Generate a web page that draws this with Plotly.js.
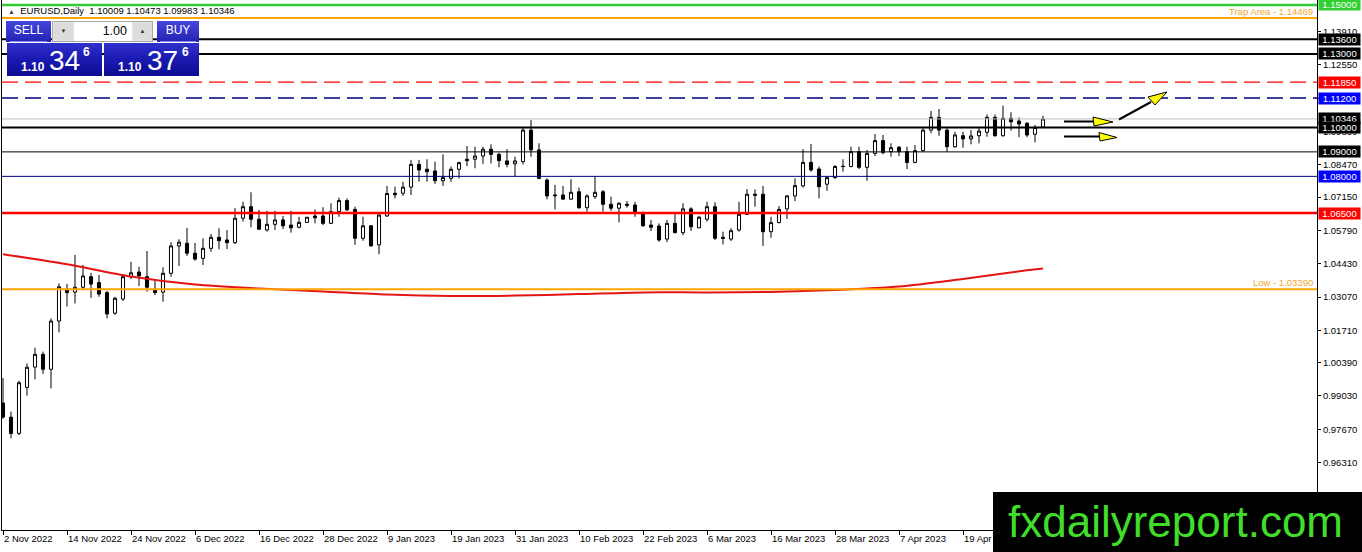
<!DOCTYPE html>
<html><head><meta charset="utf-8">
<script src="https://cdn.plot.ly/plotly-3.0.1.min.js"></script>
<style>
body{margin:0;background:#fff;}
#wrap{position:relative;width:1362px;height:552px;overflow:hidden;}
#chart{position:absolute;left:0;top:0;width:1362px;height:552px;}
.ov{position:absolute;font-family:'Liberation Sans',Arial,sans-serif;color:#fff;white-space:pre;}
.btn{background:linear-gradient(#4646dc,#2222b4);font-size:12px;text-align:center;line-height:19px;}
.pbox{background:linear-gradient(#3030cc 0%,#1a1ab0 50%,#0c0c92 100%);}
.pbox span{position:absolute;line-height:1;color:#fff;}
.s{font-size:12px;font-weight:bold;}
.b{font-size:28px;}
.p{font-size:12px;font-weight:bold;}
</style></head>
<body><div id="wrap"><div id="chart"></div>
<div class="ov" style="left:8px;top:5px;font-size:9.5px;line-height:12px;color:#000"><span style="font-size:7px;color:#444">▲</span>  <span id="hdr"></span></div>
<div class="ov btn" style="left:6px;top:21px;width:45px;height:21px;">SELL</div>
<div class="ov" style="left:10px;top:41px;width:37px;height:1px;background:#8a8ae8"></div>
<div class="ov" style="left:52px;top:21px;width:101px;height:21px;background:#e4e4e4;border:1px solid #a8a8a8;box-sizing:border-box"></div>
<div class="ov" style="left:54px;top:23px;width:19px;height:17px;background:#dcdcdc;color:#333;font-size:6px;line-height:17px;text-align:center">▼</div>
<div class="ov" style="left:74px;top:22px;width:58px;height:19px;background:#fff;color:#000;font-size:12.5px;line-height:19px;text-align:right;box-sizing:border-box;padding-right:5px">1.00</div>
<div class="ov" style="left:133px;top:23px;width:19px;height:17px;background:#dcdcdc;color:#333;font-size:6px;line-height:17px;text-align:center">▲</div>
<div class="ov btn" style="left:157px;top:21px;width:42px;height:21px;">BUY</div>
<div class="ov" style="left:160px;top:41px;width:36px;height:1px;background:#8a8ae8"></div>
<div class="ov pbox" style="left:7px;top:43px;width:95px;height:33px"><span class="s" id="bs" style="left:14px;top:18px"></span><span class="b" id="bb" style="left:42px;top:4px"></span><span class="p" id="bp" style="left:76px;top:3px"></span></div>
<div class="ov pbox" style="left:104px;top:43px;width:95px;height:33px"><span class="s" id="as" style="left:14px;top:18px"></span><span class="b" id="ab" style="left:43px;top:4px"></span><span class="p" id="ap" style="left:78px;top:3px"></span></div>
<div class="ov" style="left:993px;top:492px;width:369px;height:60px;background:#000"></div>
<div class="ov" style="left:1008px;top:500px;font-size:44px;line-height:44px;color:#40dd2a">fxdailyreport.com</div>
</div>
<script>
const symbol = 'EURUSD,Daily';
const dates = ['2022-11-02','2022-11-03','2022-11-04','2022-11-07','2022-11-08','2022-11-09','2022-11-10','2022-11-11','2022-11-14','2022-11-15','2022-11-16','2022-11-17','2022-11-18','2022-11-21','2022-11-22','2022-11-23','2022-11-24','2022-11-25','2022-11-28','2022-11-29','2022-11-30',
'2022-12-01','2022-12-02','2022-12-05','2022-12-06','2022-12-07','2022-12-08','2022-12-09','2022-12-12','2022-12-13','2022-12-14','2022-12-15','2022-12-16','2022-12-19','2022-12-20','2022-12-21','2022-12-22','2022-12-23','2022-12-26','2022-12-27','2022-12-28','2022-12-29','2022-12-30',
'2023-01-02','2023-01-03','2023-01-04','2023-01-05','2023-01-06','2023-01-09','2023-01-10','2023-01-11','2023-01-12','2023-01-13','2023-01-16','2023-01-17','2023-01-18','2023-01-19','2023-01-20','2023-01-23','2023-01-24','2023-01-25','2023-01-26','2023-01-27','2023-01-30','2023-01-31',
'2023-02-01','2023-02-02','2023-02-03','2023-02-06','2023-02-07','2023-02-08','2023-02-09','2023-02-10','2023-02-13','2023-02-14','2023-02-15','2023-02-16','2023-02-17','2023-02-20','2023-02-21','2023-02-22','2023-02-23','2023-02-24','2023-02-27','2023-02-28',
'2023-03-01','2023-03-02','2023-03-03','2023-03-06','2023-03-07','2023-03-08','2023-03-09','2023-03-10','2023-03-13','2023-03-14','2023-03-15','2023-03-16','2023-03-17','2023-03-20','2023-03-21','2023-03-22','2023-03-23','2023-03-24','2023-03-27','2023-03-28','2023-03-29','2023-03-30','2023-03-31',
'2023-04-03','2023-04-04','2023-04-05','2023-04-06','2023-04-07','2023-04-10','2023-04-11','2023-04-12','2023-04-13','2023-04-14','2023-04-17','2023-04-18','2023-04-19','2023-04-20','2023-04-21','2023-04-24','2023-04-25','2023-04-26','2023-04-27','2023-04-28',
'2023-05-01','2023-05-02','2023-05-03'];
const open = [0.9874,0.9816,0.9750,0.9938,1.0021,1.0073,1.0012,1.0209,1.0339,1.0327,1.0347,1.0390,1.0366,1.0325,1.0241,1.0299,1.0390,1.0409,1.0390,1.0339,1.0327,
1.0404,1.0516,1.0527,1.0486,1.0465,1.0506,1.0551,1.0540,1.0529,1.0629,1.0676,1.0625,1.0581,1.0604,1.0622,1.0601,1.0592,1.0612,1.0638,1.0638,1.0608,1.0656,
1.0701,1.0665,1.0547,1.0598,1.0520,1.0638,1.0731,1.0731,1.0756,1.0849,1.0829,1.0822,1.0782,1.0792,1.0829,1.0870,1.0870,1.0883,1.0911,1.0890,1.0863,1.0851,
1.0860,1.0989,1.0908,1.0785,1.0724,1.0724,1.0707,1.0737,1.0672,1.0717,1.0737,1.0686,1.0670,1.0686,1.0683,1.0649,1.0601,1.0597,1.0544,1.0608,
1.0570,1.0667,1.0590,1.0625,1.0676,1.0551,1.0544,1.0581,1.0645,1.0727,1.0727,1.0574,1.0611,1.0667,1.0720,1.0761,1.0857,1.0830,1.0768,1.0795,1.0840,1.0840,1.0901,
1.0837,1.0894,1.0946,1.0901,1.0919,1.0901,1.0857,1.0905,1.0989,1.1041,1.0989,1.0921,1.0966,1.0953,1.0966,1.0980,1.1041,1.0966,1.1037,1.1026,
1.1017,1.0972,1.10009];
const high = [0.9976,0.9839,0.9965,1.0036,1.0100,1.0084,1.0220,1.0363,1.0360,1.0479,1.0438,1.0406,1.0397,1.0332,1.0308,1.0400,1.0451,1.0431,1.0495,1.0374,1.0429,
1.0531,1.0543,1.0589,1.0528,1.0547,1.0565,1.0588,1.0581,1.0670,1.0696,1.0735,1.0663,1.0659,1.0659,1.0638,1.0659,1.0635,1.0634,1.0665,1.0674,1.0690,1.0713,
1.0710,1.0676,1.0635,1.0601,1.0649,1.0761,1.0758,1.0778,1.0867,1.0867,1.0870,1.0860,1.0890,1.0840,1.0860,1.0924,1.0921,1.0921,1.0931,1.0897,1.0911,1.0880,
1.1000,1.1030,1.0935,1.0792,1.0765,1.0761,1.0788,1.0754,1.0727,1.0799,1.0744,1.0717,1.0694,1.0699,1.0696,1.0656,1.0622,1.0608,1.0622,1.0649,
1.0690,1.0674,1.0639,1.0696,1.0694,1.0574,1.0588,1.0696,1.0748,1.0747,1.0761,1.0635,1.0679,1.0724,1.0792,1.0911,1.0932,1.0840,1.0799,1.0846,1.0870,1.0921,1.0921,
1.0908,1.0973,1.0969,1.0935,1.0924,1.0921,1.0928,1.0996,1.1067,1.1075,1.0996,1.0982,1.0982,1.0989,1.1000,1.1053,1.1053,1.1089,1.1062,1.1041,
1.1021,1.1010,1.10473];
const low = [0.9809,0.9730,0.9743,0.9904,0.9971,0.9993,0.9934,1.0163,1.0268,1.0281,1.0336,1.0304,1.0308,1.0220,1.0234,1.0291,1.0380,1.0352,1.0329,1.0315,1.0288,
1.0390,1.0434,1.0475,1.0455,1.0438,1.0492,1.0502,1.0503,1.0524,1.0615,1.0592,1.0581,1.0574,1.0581,1.0585,1.0570,1.0588,1.0611,1.0608,1.0601,1.0605,1.0635,
1.0659,1.0520,1.0537,1.0513,1.0482,1.0635,1.0710,1.0720,1.0724,1.0778,1.0778,1.0769,1.0761,1.0778,1.0792,1.0842,1.0833,1.0851,1.0853,1.0837,1.0837,1.0799,
1.0849,1.0880,1.0788,1.0706,1.0665,1.0703,1.0703,1.0667,1.0656,1.0708,1.0656,1.0659,1.0612,1.0672,1.0635,1.0594,1.0577,1.0533,1.0531,1.0567,
1.0560,1.0577,1.0588,1.0615,1.0540,1.0522,1.0536,1.0574,1.0642,1.0676,1.0516,1.0549,1.0608,1.0626,1.0699,1.0754,1.0819,1.0710,1.0741,1.0789,1.0819,1.0837,1.0830,
1.0782,1.0883,1.0890,1.0880,1.0883,1.0830,1.0853,1.0900,1.0976,1.0966,1.0900,1.0917,1.0917,1.0931,1.0935,1.0962,1.0962,1.0962,1.0987,1.0960,
1.0960,1.0939,1.09983];
const close = [0.9817,0.9750,0.9957,1.0020,1.0073,1.0012,1.0209,1.0349,1.0325,1.0347,1.0393,1.0360,1.0319,1.0238,1.0302,1.0390,1.0406,1.0393,1.0347,1.0325,1.0404,
1.0516,1.0531,1.0486,1.0462,1.0506,1.0551,1.0537,1.0529,1.0629,1.0676,1.0625,1.0584,1.0604,1.0622,1.0598,1.0590,1.0612,1.0633,1.0631,1.0608,1.0656,1.0701,
1.0663,1.0547,1.0598,1.0516,1.0642,1.0730,1.0725,1.0756,1.0849,1.0826,1.0819,1.0782,1.0795,1.0829,1.0856,1.0864,1.0883,1.0911,1.0890,1.0864,1.0849,1.0863,
1.0989,1.0908,1.0792,1.0720,1.0721,1.0707,1.0735,1.0672,1.0720,1.0735,1.0686,1.0670,1.0690,1.0682,1.0649,1.0598,1.0592,1.0540,1.0608,1.0570,
1.0667,1.0594,1.0633,1.0676,1.0547,1.0547,1.0578,1.0645,1.0727,1.0723,1.0574,1.0611,1.0665,1.0720,1.0762,1.0857,1.0826,1.0758,1.0795,1.0840,1.0841,1.0901,1.0837,
1.0894,1.0946,1.0897,1.0917,1.0901,1.0857,1.0905,1.0989,1.1041,1.0989,1.0921,1.0969,1.0953,1.0965,1.0985,1.1041,1.0966,1.1037,1.1023,1.1014,
1.0969,1.1000,1.10346];
const askPrice = 1.10376;
const maDates = ['2022-11-02','2022-11-14','2022-11-24','2022-12-06','2022-12-16','2022-12-28','2023-01-09','2023-01-19','2023-01-31','2023-02-10','2023-02-22','2023-03-06','2023-03-16','2023-03-28','2023-04-07','2023-04-19','2023-05-01','2023-05-03'];
const maValues = [1.0482,1.0441,1.0391,1.0358,1.0342,1.0330,1.0317,1.0311,1.0313,1.0319,1.0326,1.0326,1.0328,1.0336,1.0350,1.0381,1.0416,1.0424];
const tickDates = ['2022-11-02','2022-11-14','2022-11-24','2022-12-06','2022-12-16','2022-12-28','2023-01-09','2023-01-19','2023-01-31','2023-02-10','2023-02-22','2023-03-06','2023-03-16','2023-03-28','2023-04-07','2023-04-19'];
const tickLabels = ['2 Nov 2022','14 Nov 2022','24 Nov 2022','6 Dec 2022','16 Dec 2022','28 Dec 2022','9 Jan 2023','19 Jan 2023','31 Jan 2023','10 Feb 2023','22 Feb 2023','6 Mar 2023','16 Mar 2023','28 Mar 2023','7 Apr 2023','19 Apr 2023'];
const yTicks = [0.96310,0.97670,0.99030,1.00390,1.01710,1.03070,1.04430,1.05790,1.07150,1.08470,1.09830,1.11190,1.12550,1.13910];
const levelNames = ['target','trap','r3','r2','r1b','r1','bid','pivot','s1','s2','s3','low'];
const levelValues = [1.15000,1.14469,1.13600,1.13000,1.11850,1.11200,1.10346,1.10000,1.09000,1.08000,1.06500,1.03390];

// ---- styles / layout ----
const W=1362,H=552,L=2,R=45,T=0,B=22;
const plotW=W-L-R, plotH=H-T-B, barPx=8;
const xRange=[-0.125,-0.125+plotW/barPx];
const yRange=[0.93554,1.15204];
const FONT="'Liberation Sans', Arial, sans-serif";
const lineStyle = {
  target:{color:'#32cd32',width:2.5}, trap:{color:'#ffa500',width:2},
  r3:{color:'#000',width:2}, r2:{color:'#000',width:2},
  r1b:{color:'#ff0000',width:1.3,dash:'16px,7px'}, r1:{color:'#000080',width:1.3,dash:'16px,7px'},
  bid:{color:'#c0c0c0',width:1}, pivot:{color:'#000',width:2},
  s1:{color:'#000',width:1}, s2:{color:'#000080',width:1},
  s3:{color:'#ff0000',width:2.5}, low:{color:'#ffa500',width:2}
};
const tagColor = {target:'#2fd02f',r3:'#000',r2:'#000',r1b:'#ff0000',r1:'#0000ff',bid:'#000',pivot:'#000',s1:'#000',s2:'#0000ff',s3:'#ff0000'};

const P=(px,py)=>[(px-L)/plotW,1-(py-T)/plotH];
const pathOf=pts=>'M'+pts.map(p=>{const q=P(p[0],p[1]);return q[0].toFixed(5)+','+q[1].toFixed(5);}).join('L')+'Z';

const shapes=[];
levelNames.forEach((n,i)=>{
  const st=lineStyle[n];
  shapes.push({type:'line',xref:'paper',yref:'y',x0:0,x1:1,y0:levelValues[i],y1:levelValues[i],layer:'above',
    line:{color:st.color,width:st.width,dash:st.dash||'solid'}});
});
const arrows=[
  {shaft:[[1064,121.5],[1095,121.5]],head:[[1093,117],[1113,122],[1094,126]]},
  {shaft:[[1064,136.5],[1100,136.5]],head:[[1099,132.5],[1117,137.5],[1100,141]]},
  {shaft:[[1119,119.5],[1151,102]],head:[[1148,97],[1167,92],[1155,105]]}
];
arrows.forEach(a=>{
  const p0=P(a.shaft[0][0],a.shaft[0][1]),p1=P(a.shaft[1][0],a.shaft[1][1]);
  shapes.push({type:'line',xref:'paper',yref:'paper',x0:p0[0],y0:p0[1],x1:p1[0],y1:p1[1],layer:'above',line:{color:'#000',width:2}});
  shapes.push({type:'path',xref:'paper',yref:'paper',path:pathOf(a.head),fillcolor:'#ffff00',layer:'above',line:{color:'#000',width:1}});
});

const annotations=[];
levelNames.forEach((n,i)=>{
  if(n==='trap'||n==='low'){
    annotations.push({xref:'paper',yref:'y',x:1,y:levelValues[i],xanchor:'right',yanchor:'bottom',xshift:-3,yshift:0,
      text:(n==='trap'?'Trap Area - ':'Low - ')+levelValues[i].toFixed(5),showarrow:false,
      font:{family:FONT,size:9.5,color:'#f0a830'},borderpad:0});
  }
});
levelNames.forEach((n,i)=>{
  if(tagColor[n]){
    annotations.push({xref:'paper',yref:'y',x:1,y:levelValues[i],xanchor:'left',yanchor:'middle',xshift:1,
      text:levelValues[i].toFixed(5),showarrow:false,bgcolor:tagColor[n],width:41,height:11,borderpad:0,align:'center',
      font:{family:FONT,size:9.5,color:'#fff'}});
  }
});

const data=[
  {type:'candlestick',x:dates,open:open,high:high,low:low,close:close,whiskerwidth:0,hoverinfo:'skip',showlegend:false,
   increasing:{line:{color:'#000',width:1},fillcolor:'#ffffff'},
   decreasing:{line:{color:'#000',width:1},fillcolor:'#000000'}},
  {type:'scatter',mode:'lines',x:maDates,y:maValues,line:{color:'#e31414',width:2,shape:'spline',smoothing:0.8},hoverinfo:'skip',showlegend:false}
];
const layout={
  width:W,height:H,margin:{l:L,r:R,t:T,b:B},paper_bgcolor:'#fff',plot_bgcolor:'#fff',showlegend:false,boxgap:0.45,
  font:{family:FONT,size:9.5,color:'#000'},
  xaxis:{type:'category',categoryorder:'array',categoryarray:dates,range:xRange,rangeslider:{visible:false},showgrid:false,zeroline:false,showline:true,mirror:true,
    linecolor:'#000',linewidth:1,ticks:'outside',ticklen:4,tickcolor:'#000',tickvals:tickDates,ticktext:tickLabels,tickangle:0,
    ticklabelposition:'outside right',tickfont:{family:FONT,size:9.5,color:'#000'},fixedrange:true},
  yaxis:{side:'right',range:yRange,showgrid:false,zeroline:false,showline:true,mirror:true,linecolor:'#000',linewidth:1,
    ticks:'outside',ticklen:3,tickcolor:'#000',tickvals:yTicks,tickformat:'.5f',tickfont:{family:FONT,size:9.5,color:'#000'},fixedrange:true},
  shapes:shapes,annotations:annotations
};
Plotly.newPlot('chart',data,layout,{staticPlot:true,displayModeBar:false});

// header & one-click panel texts from the data
const n=close.length-1;
document.getElementById('hdr').textContent=symbol+'  '+[open[n],high[n],low[n],close[n]].map(v=>v.toFixed(5)).join(' ');
function splitPrice(v){const s=v.toFixed(5);return [s.slice(0,4),s.slice(4,6),s.slice(6)];}
const bp=splitPrice(close[n]),ap=splitPrice(askPrice);
document.getElementById('bs').textContent=bp[0];document.getElementById('bb').textContent=bp[1];document.getElementById('bp').textContent=bp[2];
document.getElementById('as').textContent=ap[0];document.getElementById('ab').textContent=ap[1];document.getElementById('ap').textContent=ap[2];
</script>
</body></html>
